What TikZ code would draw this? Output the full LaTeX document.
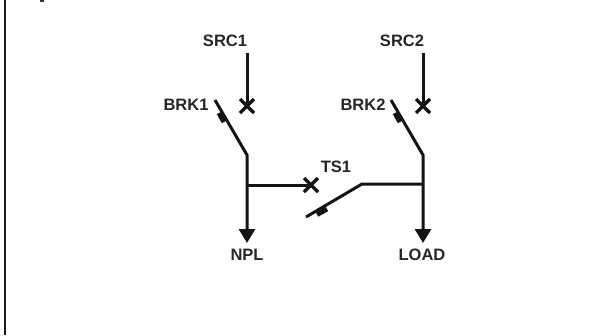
\documentclass[tikz,border=0pt]{standalone}
\usepackage{fontspec}
\setmainfont{Liberation Sans}
\usetikzlibrary{arrows.meta}

\begin{document}
\begin{tikzpicture}[x=1pt, y=-1pt, line width=3pt, bus/.style={draw=black!92}, lbl/.style={font=\bfseries\fontsize{16.5}{18}\selectfont, inner sep=0pt, text=black!85}, cross/.style={draw=black!92, line width=3.4pt}, blade/.style={line width=5pt, draw=black!92}]

    \useasboundingbox (0,0) rectangle (611,335);
    \draw[line width=2.4pt, draw=black!90] (5,0) -- (5,335);
    \fill[black!80] (40,0) rectangle (44,2);

    \node[lbl] (src1) at (225,41) {SRC1};
    \node[lbl] (src2) at (402,41) {SRC2};
    \node[lbl] (brk1) at (186,105) {BRK1};
    \node[lbl] (brk2) at (363,105) {BRK2};
    \node[lbl] (ts1) at (336,167) {TS1};
    \node[lbl] (npl) at (247,255) {NPL};
    \node[lbl] (load) at (422,255) {LOAD};

    \coordinate (a1) at (247,53);
    \coordinate (x1) at (247,106);
    \coordinate (b1) at (215,100);
    \coordinate (h1) at (247,155);
    \coordinate (j1) at (247,185);
    \coordinate (e1) at (247,243);
    \coordinate (a2) at (423,53);
    \coordinate (x2) at (423,106);
    \coordinate (b2) at (391,100);
    \coordinate (h2) at (423,155);
    \coordinate (j2) at (423,184);
    \coordinate (e2) at (423,243);
    \coordinate (x3) at (311,185);
    \coordinate (t1) at (306,217);
    \coordinate (t2) at (362,184);

    \draw[bus] (a1) -- (x1);
    \draw[bus] (a2) -- (x2);
    \draw[cross] (240,99) -- (254,113) (254,99) -- (240,113);
    \draw[cross] (416,99) -- (430,113) (430,99) -- (416,113);
    \draw[cross] (304,178) -- (318,192) (318,178) -- (304,192);

    \draw[bus, -{Triangle[length=14pt, width=16pt]}] (b1) -- (h1) -- (e1);
    \draw[bus, -{Triangle[length=14pt, width=16pt]}] (b2) -- (h2) -- (e2);
    \draw[bus] (j1) -- (x3);
    \draw[bus] (t1) -- (t2) -- (j2);

    \draw[blade] (219,113) -- (224,122);
    \draw[blade] (395,113) -- (400,122);
    \draw[blade] (317,214.5) -- (327,209);
\end{tikzpicture}
\end{document}
